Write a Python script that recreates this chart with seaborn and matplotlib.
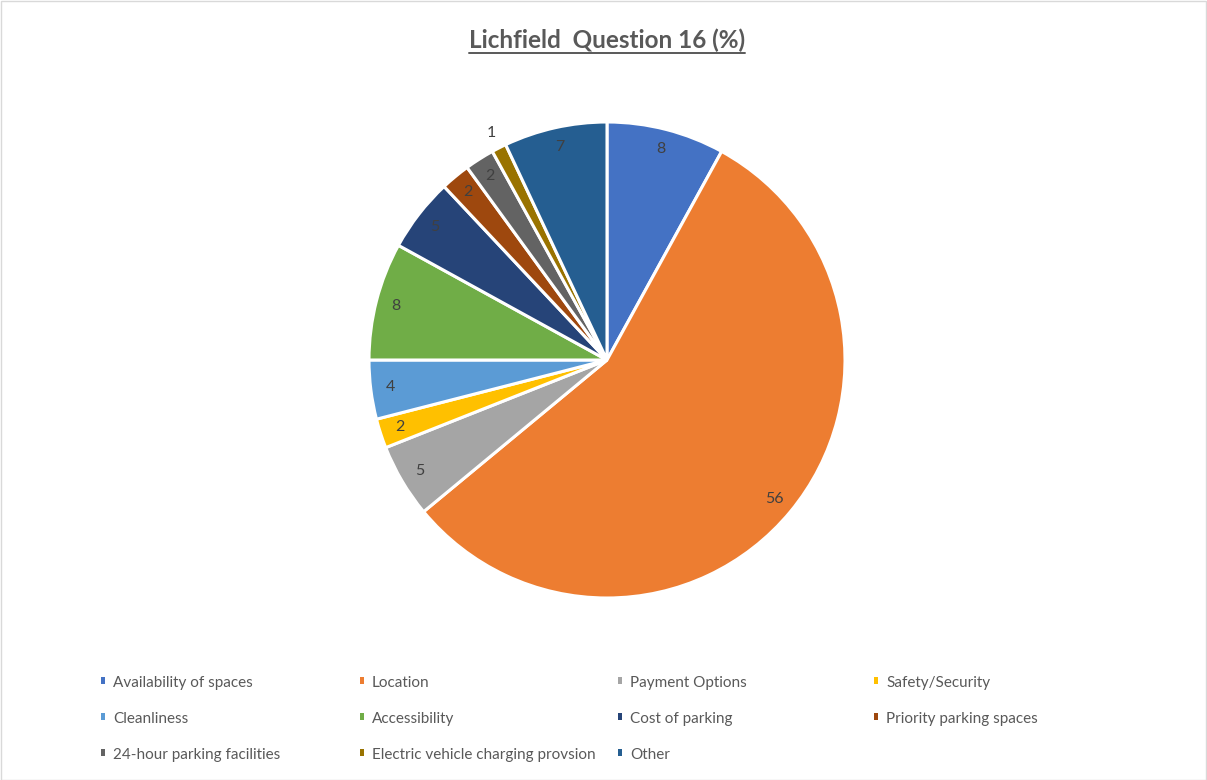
import matplotlib
matplotlib.use("Agg")
import matplotlib.pyplot as plt
from matplotlib.lines import Line2D
from matplotlib.patches import Rectangle
import numpy as np
import seaborn as sns

categories = [
    "Availability of spaces", "Location", "Payment Options", "Safety/Security",
    "Cleanliness", "Accessibility", "Cost of parking", "Priority parking spaces",
    "24-hour parking facilities", "Electric vehicle charging provsion", "Other",
]
values = [8, 56, 5, 2, 4, 8, 5, 2, 2, 1, 7]
colors = ["#4472C4", "#ED7D31", "#A5A5A5", "#FFC000", "#5B9BD5", "#70AD47",
          "#264478", "#9E480E", "#636363", "#997300", "#255E91"]
title = "Lichfield  Question 16 (%)"

sns.set_theme(style="white")
plt.rcParams["font.family"] = ["Lato", "DejaVu Sans"]

W, H = 1207, 780
fig = plt.figure(figsize=(W / 100, H / 100), dpi=100)
fig.patch.set_facecolor("white")
fig.patches.append(Rectangle((0.5 / W, 0.5 / H), 1 - 1.5 / W, 1 - 1.5 / H,
                             transform=fig.transFigure, fill=False,
                             edgecolor="#D9D9D9", linewidth=1))

# pie placed in a square axes centred on the plot area
cx, cy, r = 607, 360, 238
ax = fig.add_axes([(cx - r) / W, (H - cy - r) / H, 2 * r / W, 2 * r / H])
palette = sns.color_palette(colors)
wedges, _ = ax.pie(values, colors=palette, startangle=90, counterclock=False,
                   wedgeprops=dict(edgecolor="white", linewidth=2.2))
ax.set_xlim(-1, 1)
ax.set_ylim(-1, 1)
ax.set_aspect("equal")
ax.axis("off")

# value labels, just inside the rim (smallest slice labelled outside)
for w, v in zip(wedges, values):
    ang = np.deg2rad((w.theta1 + w.theta2) / 2)
    dist = 1.07 if v < 2 else 0.915
    ax.text(dist * np.cos(ang), dist * np.sin(ang), f"{v}", ha="center",
            va="center", fontsize=11.5, color="#404040")

# title with underline
t = fig.text(cx / W, 1 - 40 / H, title, ha="center", va="center",
             fontsize=17.5, fontweight="bold", color="#595959")
fig.canvas.draw()
bb = t.get_window_extent(renderer=fig.canvas.get_renderer())
uy = (bb.y0 - 1) / H
fig.lines.append(Line2D([bb.x0 / W, bb.x1 / W], [uy, uy], transform=fig.transFigure,
                        color="#595959", linewidth=1.4))

# legend laid out in a 4-column grid
col_x = [103, 362, 620, 876]
row_y = [682, 718, 754]
for i, (name, c) in enumerate(zip(categories, palette)):
    x = col_x[i % 4]
    y = row_y[i // 4]
    fig.patches.append(Rectangle(((x - 2) / W, 1 - (y + 2) / H), 4 / W, 7 / H,
                                 transform=fig.transFigure, facecolor=c,
                                 edgecolor="none"))
    fig.text((x + 10) / W, 1 - (y + 1) / H, name, ha="left", va="center",
             fontsize=11, color="#595959")

fig.savefig("out.png", dpi=100, facecolor="white")
